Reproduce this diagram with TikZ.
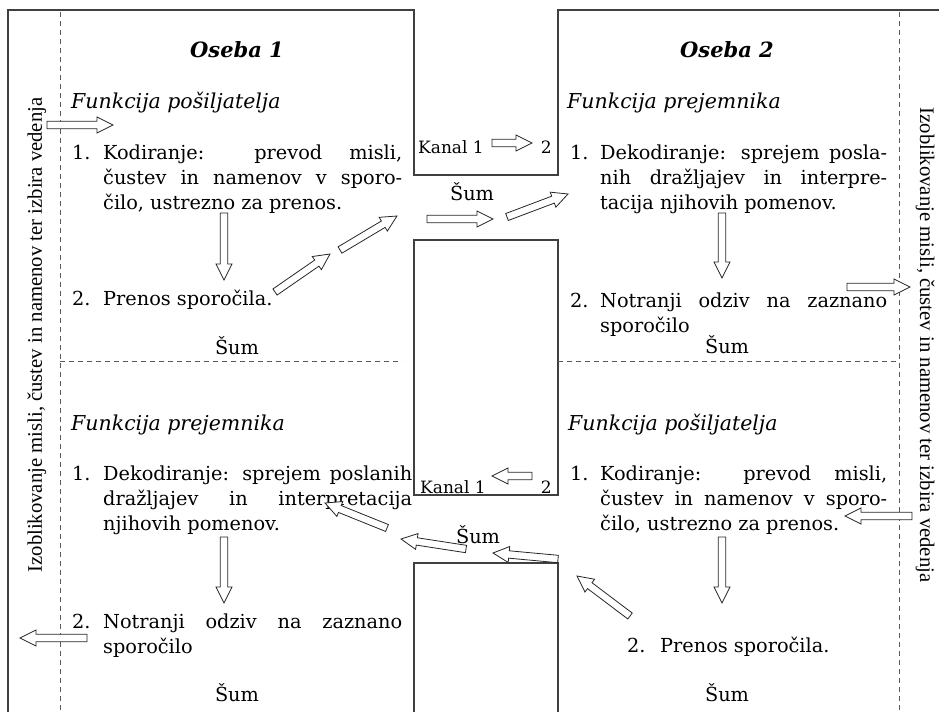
\documentclass[tikz,border=0pt]{standalone}
\usepackage{fontspec}
\setmainfont{DejaVu Serif}
\newfontfamily\sidefont{Liberation Serif}
\usetikzlibrary{calc}
\def\arrshaft{3.7pt}
\def\arrhead{8pt}
\def\arrlen{16pt}
\newcommand{\hollowarrow}[2]{%
\path (#2) coordinate (tipE) ($(#2)!\arrlen!(#1)$) coordinate (tipH);
\draw[hollow] ($(#1)!\arrshaft!90:(#2)$) -- ($(tipH)!\arrshaft!90:(tipE)$) -- ($(tipH)!\arrhead!90:(tipE)$) -- (tipE)
 -- ($(tipH)!\arrhead!-90:(tipE)$) -- ($(tipH)!\arrshaft!-90:(tipE)$) -- ($(#1)!\arrshaft!-90:(#2)$) -- cycle;}
\tikzset{
 outline/.style={draw=black!75,line width=1.2pt},
 divider/.style={draw=black!65,line width=0.8pt,dash pattern=on 5pt off 4pt},
 hollow/.style={draw=black!85,line width=0.8pt,fill=white,line join=miter},
 txt/.style={inner sep=0pt,anchor=base west,font=\fontsize{19.3}{25}\selectfont},
 itembox/.style={txt,text width=#1,align=justify,execute at begin node={\tolerance=10000\hyphenpenalty=10000}},
 functext/.style={txt,font=\fontsize{20.5}{25}\selectfont\itshape},
 personhead/.style={inner sep=0pt,anchor=base,font=\fontsize{21}{25}\selectfont\bfseries\itshape},
 noisetext/.style={inner sep=0pt,anchor=base,font=\fontsize{19.3}{25}\selectfont},
 chantext/.style={inner sep=0pt,font=\fontsize{17}{20}\selectfont},
 sidetext/.style={inner sep=0pt,font=\sidefont\fontsize{20.7}{22}\selectfont}
}
\begin{document}
\begin{tikzpicture}[x=1pt,y=-1pt]
\useasboundingbox (0,0) rectangle (939,712);
\draw[outline] (8,712) -- (8,10) -- (414,10) -- (414,175) -- (558,175) -- (558,10) -- (939,10);
\draw[outline] (414,240) rectangle (558,495);
\draw[outline] (414,712) -- (414,563) -- (558,563) -- (558,712);
\draw[divider] (60,12) -- (60,712);\draw[divider] (899,12) -- (899,712);
\draw[divider] (60,361) -- (402,361);\draw[divider] (558,361) -- (899,361);
\node[sidetext,rotate=90] (sideL) at (37,335) {Izoblikovanje misli, čustev in namenov ter izbira vedenja};
\node[sidetext,rotate=-90] (sideR) at (925,345) {Izoblikovanje misli, čustev in namenov ter izbira vedenja};
\node[personhead] (os1) at (237,57) {Oseba 1};
\node[personhead] (os2) at (727,57) {Oseba 2};
\node[functext] (fs1) at (71,108) {Funkcija pošiljatelja};
\node[functext] (fp2) at (567,108) {Funkcija prejemnika};
\node[functext] (fp1) at (71,430) {Funkcija prejemnika};
\node[functext] (fs2) at (568,430) {Funkcija pošiljatelja};
\foreach \nm/\lab/\px/\py in {n1a/1./72/159,n1b/2./72/305,n2a/1./570/159,n2b/2./570/307,n3a/1./72/480,n3b/2./72/628,n4a/1./570/480,n4b/2./627/652}
 {\node[txt] (\nm) at (\px,\py) {\lab};}
\node[itembox=299pt] (k1) at (103,159) {Kodiranje: prevod misli,\linebreak čustev in namenov v sporo-\linebreak čilo, ustrezno za prenos.};
\node[txt] (p1) at (103,305) {Prenos sporočila.};
\node[itembox=287pt] (d2) at (600,159) {Dekodiranje: sprejem posla-\linebreak nih dražljajev in interpre-\linebreak tacija njihovih pomenov.};
\node[itembox=287pt] (o2) at (600,307) {Notranji odziv na zaznano\linebreak sporočilo};
\node[itembox=309pt] (d1) at (103,480) {Dekodiranje: sprejem poslanih\linebreak dražljajev in interpretacija\linebreak njihovih pomenov.};
\node[itembox=299pt] (o1) at (103,628) {Notranji odziv na zaznano\linebreak sporočilo};
\node[itembox=287pt] (k2) at (600,480) {Kodiranje: prevod misli,\linebreak čustev in namenov v sporo-\linebreak čilo, ustrezno za prenos.};
\node[txt] (p2) at (660,652) {Prenos sporočila.};
\foreach \nm/\px/\py in {s1/237/354,s2/727/353,s3/237/701,s4/727/701,s5/472/200,s6/478/543}
 {\node[noisetext] (\nm) at (\px,\py) {Šum};}
\node[chantext,anchor=base west] (kan1) at (418,153) {Kanal 1};
\node[chantext,anchor=base east] (kan1b) at (552,153) {2};
\node[chantext,anchor=base west] (kan2) at (420,493) {Kanal 1};
\node[chantext,anchor=base east] (kan2b) at (552,493) {2};
\foreach \nm/\px/\py in {a1s/47/125,a1e/113/125,a2s/224/213,a2e/224/280,a3s/275/292,a3e/330/254,a4s/340/250,a4e/397/216,
 a5s/492/143,a5e/532/143,a6s/427/219,a6e/493/219,a7s/507/217,a7e/568/194,a8s/722/213,a8e/722/278,a9s/847/287,a9e/910/287,
 b1s/912/516,b1e/845/516,b2s/722/537,b2e/722/603,b3s/630/616,b3e/577/576,b4s/558/559,b4e/493/553,b5s/466/549,b5e/401/539,
 b6s/532/476,b6e/492/476,b7s/387/528,b7e/325/503,b8s/224/537,b8e/224/603,b9s/87/638,b9e/20/638}
 {\coordinate (\nm) at (\px,\py);}
\foreach \a in {a1,a2,a3,a4,a5,a6,a7,a8,a9,b1,b2,b3,b4,b5,b6,b7,b8,b9}
 {\hollowarrow{\a s}{\a e}}
\end{tikzpicture}
\end{document}
